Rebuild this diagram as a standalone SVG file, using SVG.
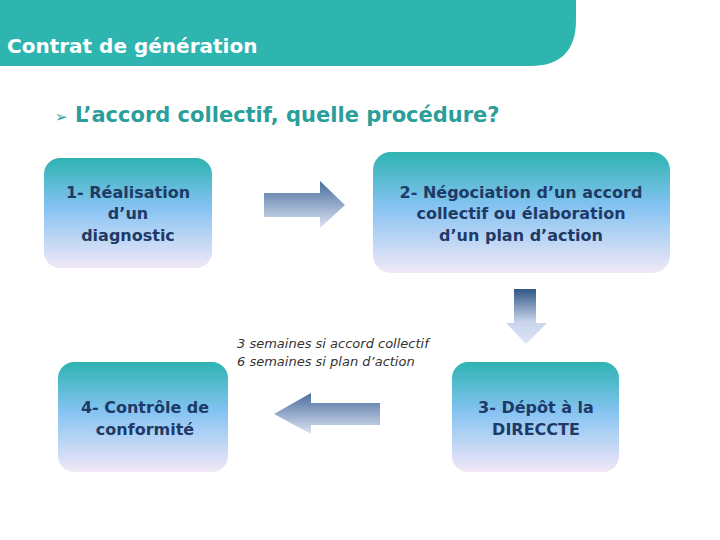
<svg xmlns="http://www.w3.org/2000/svg" width="720" height="540" viewBox="0 0 720 540">
<defs>
<linearGradient id="box" x1="0" y1="0" x2="0" y2="1">
<stop offset="0" stop-color="#2EB3B1"/>
<stop offset="0.45" stop-color="#85C3F2"/>
<stop offset="1" stop-color="#F2E8F7"/>
</linearGradient>
<linearGradient id="ah" x1="0" y1="0" x2="0" y2="1">
<stop offset="0" stop-color="#4A6E9E"/>
<stop offset="1" stop-color="#DCE4F4"/>
</linearGradient>
<linearGradient id="av" x1="0" y1="0" x2="0" y2="1">
<stop offset="0" stop-color="#2F5686"/>
<stop offset="0.6" stop-color="#C9D4EC"/>
<stop offset="1" stop-color="#DCE4F4"/>
</linearGradient>
<style>
.b{fill:url(#box)}
.t{font-family:"DejaVu Sans",sans-serif;font-weight:bold;font-size:16px;fill:#1E3A66;text-anchor:middle}
.n{font-family:"DejaVu Sans",sans-serif;font-style:italic;font-size:13px;fill:#333}
</style>
</defs>
<rect width="720" height="540" fill="#fff"/>
<path d="M0 0H576V20Q576 66 530 66H0Z" fill="#2EB5B0"/>
<text x="7" y="53" font-family="DejaVu Sans,sans-serif" font-weight="bold" font-size="20" fill="#fff">Contrat de génération</text>
<text x="55" y="122" font-family="DejaVu Sans,sans-serif" font-weight="bold" font-size="21" fill="#2A9E9A"><tspan font-size="15">➢</tspan> L’accord collectif, quelle procédure?</text>
<g id="n1"><rect class="b" x="44" y="158" width="168" height="110" rx="16"/>
<text class="t" x="128" y="198">1- Réalisation</text><text class="t" x="128" y="219">d’un</text><text class="t" x="128" y="241">diagnostic</text></g>
<g id="n2"><rect class="b" x="373" y="152" width="297" height="121" rx="18"/>
<text class="t" x="521" y="198">2- Négociation d’un accord</text><text class="t" x="521" y="219">collectif ou élaboration</text><text class="t" x="521" y="241">d’un plan d’action</text></g>
<g id="n3"><rect class="b" x="452" y="362" width="167" height="110" rx="16"/>
<text class="t" x="536" y="413">3- Dépôt à la</text><text class="t" x="536" y="435">DIRECCTE</text></g>
<g id="n4"><rect class="b" x="58" y="362" width="170" height="110" rx="16"/>
<text class="t" x="145" y="413">4- Contrôle de</text><text class="t" x="145" y="435">conformité</text></g>
<g id="connectors">
<path d="M264 193H320V181L345 205L320 228V217H264Z" fill="url(#ah)"/>
<path d="M514 289H536V323H547L526 344L506 323H514Z" fill="url(#av)"/>
<path d="M380 403H311V393L274 414L311 434V425H380Z" fill="url(#ah)"/>
</g>
<text class="n" x="237" y="348">3 semaines si accord collectif</text>
<text class="n" x="237" y="366">6 semaines si plan d’action</text>
</svg>
